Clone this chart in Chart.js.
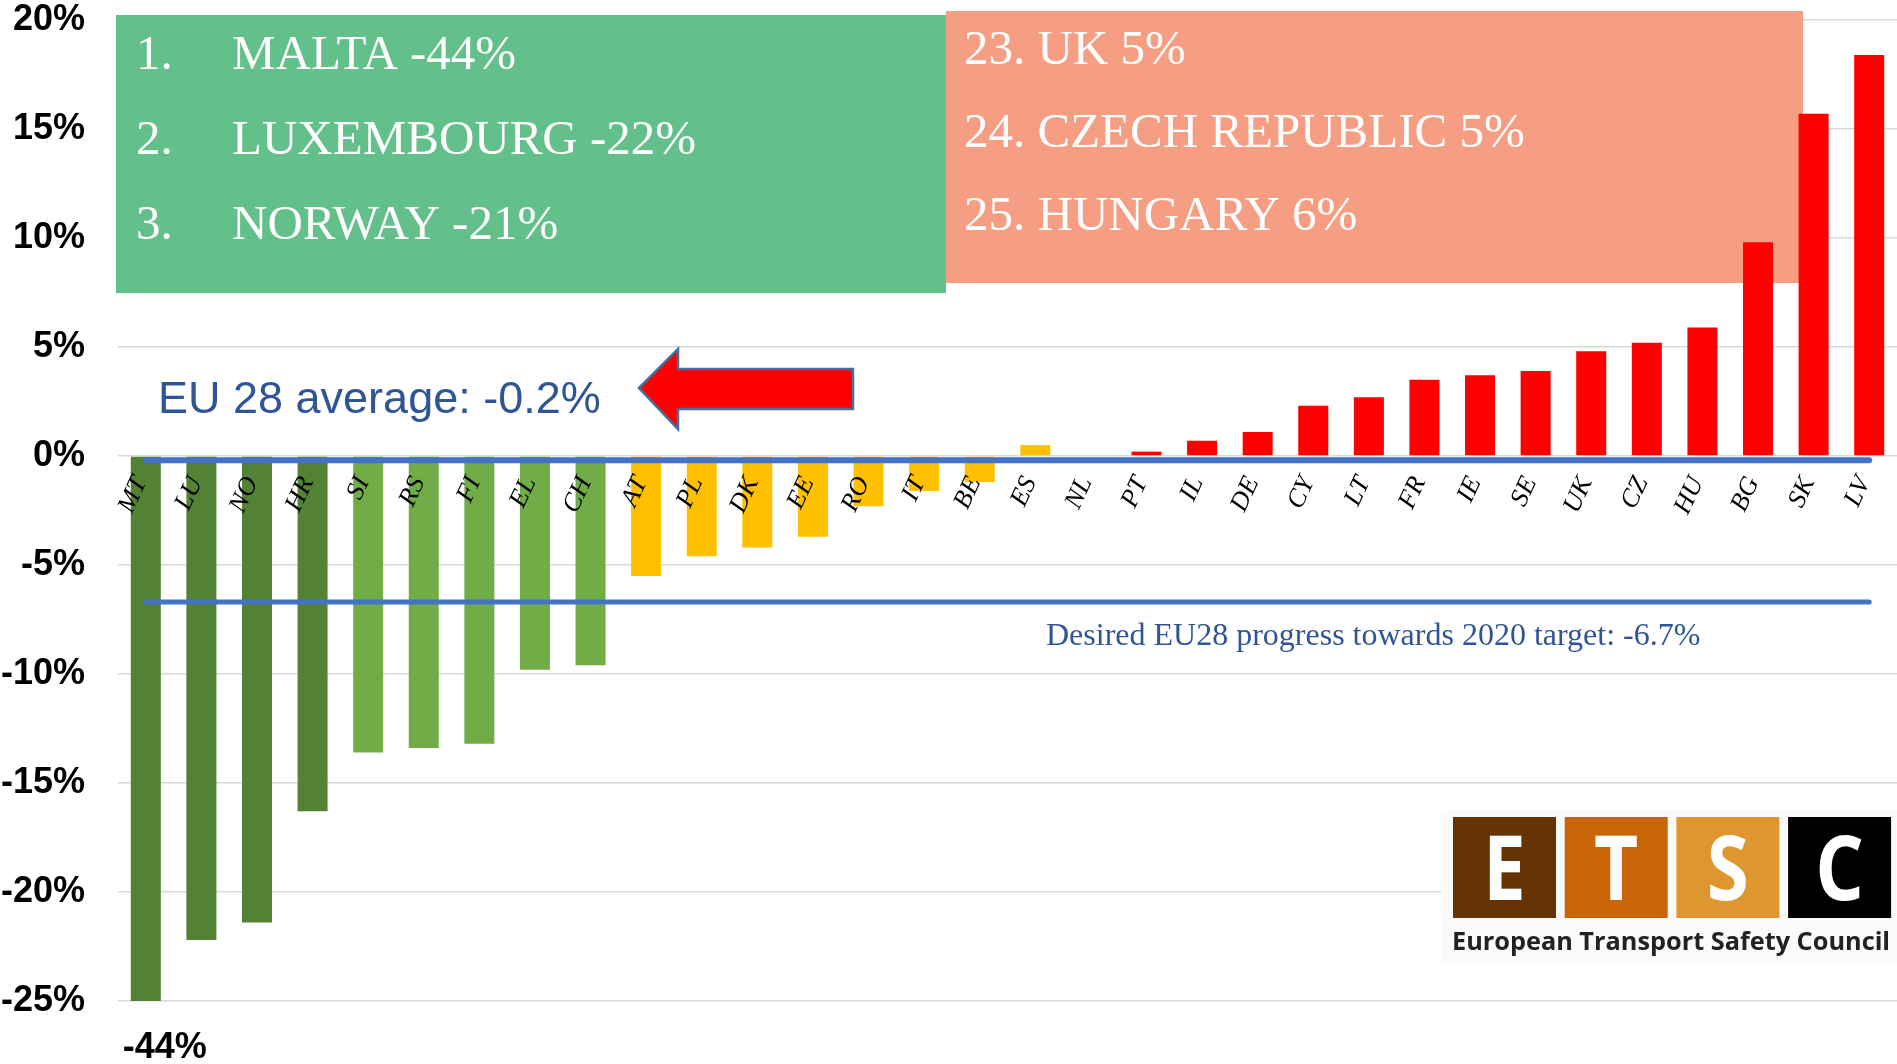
<!DOCTYPE html>
<html>
<head>
<meta charset="utf-8">
<title>Road deaths change by country</title>
<script src="https://cdn.jsdelivr.net/npm/chart.js@4.4.1/dist/chart.umd.min.js"></script>
<style>
  html, body { margin: 0; padding: 0; background: #fff; }
  #wrap { position: relative; width: 1897px; height: 1064px; }
</style>
</head>
<body>
<div id="wrap"><canvas id="chart"></canvas></div>
<script>
const countries = ["MT", "LU", "NO", "HR", "SI", "RS", "FI", "EL", "CH", "AT", "PL", "DK", "EE", "RO", "IT", "BE",
  "ES", "NL", "PT", "IL", "DE", "CY", "LT", "FR", "IE", "SE", "UK", "CZ", "HU", "BG", "SK", "LV"];
const changes = [-44, -22.2, -21.4, -16.3, -13.6, -13.4, -13.2, -9.8, -9.6, -5.5, -4.6, -4.2, -3.7, -2.3, -1.6, -1.2,
  0.5, 0, 0.2, 0.7, 1.1, 2.3, 2.7, 3.5, 3.7, 3.9, 4.8, 5.2, 5.9, 9.8, 15.7, 18.4];
const barColors = [
  "#548235", "#548235", "#548235", "#548235",
  "#70AD47", "#70AD47", "#70AD47", "#70AD47", "#70AD47",
  "#FFC000", "#FFC000", "#FFC000", "#FFC000", "#FFC000", "#FFC000", "#FFC000", "#FFC000",
  "#FF0000", "#FF0000", "#FF0000", "#FF0000", "#FF0000", "#FF0000", "#FF0000", "#FF0000",
  "#FF0000", "#FF0000", "#FF0000", "#FF0000", "#FF0000", "#FF0000", "#FF0000"];

const euAverage = -0.2;
const desiredProgress = -6.7;
const yMin = -25;
const yMax = 20;
const yStep = 5;

const bestRanks = ["1.", "2.", "3."];
const bestNames = ["MALTA -44%", "LUXEMBOURG -22%", "NORWAY -21%"];
const worstLines = ["23. UK 5%", "24. CZECH REPUBLIC 5%", "25. HUNGARY 6%"];
const averageLabel = "EU 28 average: -0.2%";
const desiredLabel = "Desired EU28 progress towards 2020 target: -6.7%";
const clippedLabel = "-44%";
const logoLetters = ["E", "T", "S", "C"];
const logoColors = ["#663305", "#C96508", "#DE962F", "#000000"];
const logoCaption = "European Transport Safety Council";

const BLUE_TEXT = "#2F5597";
const SERIF = '"Liberation Serif", "Times New Roman", serif';
const SANS = '"Liberation Sans", Arial, sans-serif';

const drawArrow = (ctx) => {
  ctx.beginPath();
  ctx.moveTo(639, 388);
  ctx.lineTo(678, 349);
  ctx.lineTo(678, 369);
  ctx.lineTo(853, 369);
  ctx.lineTo(853, 409);
  ctx.lineTo(678, 409);
  ctx.lineTo(678, 429);
  ctx.closePath();
  ctx.fillStyle = "#FF0000";
  ctx.fill();
  ctx.lineWidth = 2.5;
  ctx.strokeStyle = "#41719C";
  ctx.stroke();
};

const drawLogo = (ctx) => {
  ctx.fillStyle = "#FAFAFA";
  ctx.fillRect(1441, 810, 456, 154);
  logoLetters.forEach((letter, i) => {
    const left = 1453 + i * 111.7;
    ctx.fillStyle = logoColors[i];
    ctx.fillRect(left, 817, 103, 101);
    ctx.save();
    ctx.translate(left + 51.5, 900);
    ctx.scale(0.85, 1);
    ctx.fillStyle = "#FFFFFF";
    ctx.font = 'bold 90px "Open Sans", ' + SANS;
    ctx.textAlign = "center";
    ctx.textBaseline = "alphabetic";
    ctx.fillText(letter, 0, 0);
    ctx.restore();
  });
  ctx.textAlign = "left";
  ctx.font = 'bold 24px "Open Sans", ' + SANS;
  const natural = ctx.measureText(logoCaption).width;
  const size = 24 * 438 / natural;
  ctx.font = `bold ${size.toFixed(1)}px "Open Sans", ${SANS}`;
  ctx.fillStyle = "#222222";
  ctx.fillText(logoCaption, 1452, 950);
};

const annotations = {
  id: "annotations",
  beforeDatasetsDraw(chart) {
    const { ctx } = chart;
    ctx.save();
    ctx.fillStyle = "rgba(82, 185, 126, 0.9)";
    ctx.fillRect(116, 15, 830, 278);
    ctx.fillStyle = "rgba(244, 147, 117, 0.9)";
    ctx.fillRect(946, 11, 857, 272);
    ctx.restore();
  },
  afterDraw(chart) {
    const { ctx } = chart;
    const xScale = chart.scales.x;
    ctx.save();
    ctx.textBaseline = "alphabetic";
    ctx.textAlign = "left";

    ctx.fillStyle = "#FFFFFF";
    ctx.font = `49px ${SERIF}`;
    bestRanks.forEach((rank, i) => {
      const base = 69 + i * 85;
      ctx.fillText(rank, 136, base);
      ctx.fillText(bestNames[i], 232, base);
    });
    worstLines.forEach((line, i) => {
      ctx.fillText(line, 964, 64 + i * 83);
    });

    ctx.fillStyle = BLUE_TEXT;
    ctx.font = `45px ${SANS}`;
    ctx.fillText(averageLabel, 158, 413);

    ctx.font = `32px ${SERIF}`;
    ctx.fillText(desiredLabel, 1046, 645);

    ctx.fillStyle = "#000000";
    ctx.font = `bold 36px ${SANS}`;
    ctx.fillText(clippedLabel, xScale.getPixelForValue(0) - 23, 1058);

    drawArrow(ctx);
    drawLogo(ctx);
    ctx.restore();
  },
};

const chart = new Chart(document.getElementById("chart"), {
  data: {
    labels: countries,
    datasets: [
      {
        type: "line",
        label: "EU 28 average",
        data: [{ x: countries[0], y: euAverage }, { x: countries[countries.length - 1], y: euAverage }],
        borderColor: "#4472C4",
        borderWidth: 6,
        borderCapStyle: "round",
        pointRadius: 0,
        order: 0,
      },
      {
        type: "line",
        label: "Desired progress",
        data: [{ x: countries[0], y: desiredProgress }, { x: countries[countries.length - 1], y: desiredProgress }],
        borderColor: "#4472C4",
        borderWidth: 5,
        borderCapStyle: "round",
        pointRadius: 0,
        order: 0,
      },
      {
        type: "bar",
        label: "Change",
        data: changes,
        backgroundColor: barColors,
        borderWidth: 0,
        barPercentage: 0.54,
        categoryPercentage: 1,
        order: 1,
      },
    ],
  },
  options: {
    responsive: true,
    maintainAspectRatio: false,
    animation: false,
    layout: { padding: { top: 20, bottom: 63, left: 0, right: 0 } },
    plugins: {
      legend: { display: false },
      tooltip: { enabled: false },
    },
    scales: {
      x: {
        type: "category",
        position: { y: 0 },
        offset: true,
        grid: { display: false },
        border: { display: false },
        afterFit: (scale) => {
          scale.paddingLeft = 0;
          scale.paddingRight = 0;
        },
        ticks: {
          z: 1,
          autoSkip: false,
          minRotation: 65,
          maxRotation: 65,
          padding: 8,
          labelOffset: -5,
          color: "#000000",
          font: { family: SERIF, size: 26, style: "italic" },
        },
      },
      y: {
        min: yMin,
        max: yMax,
        afterFit: (scale) => {
          scale.width = 118;
          scale.paddingTop = 0;
          scale.paddingBottom = 0;
        },
        grid: { color: "#D9D9D9", lineWidth: 1.5, drawTicks: false },
        border: { display: false },
        ticks: {
          stepSize: yStep,
          padding: 33,
          color: "#000000",
          font: { family: SANS, size: 36, weight: "bold" },
          callback: (value) => `${value}%`,
        },
      },
    },
  },
  plugins: [annotations],
});
</script>
</body>
</html>
